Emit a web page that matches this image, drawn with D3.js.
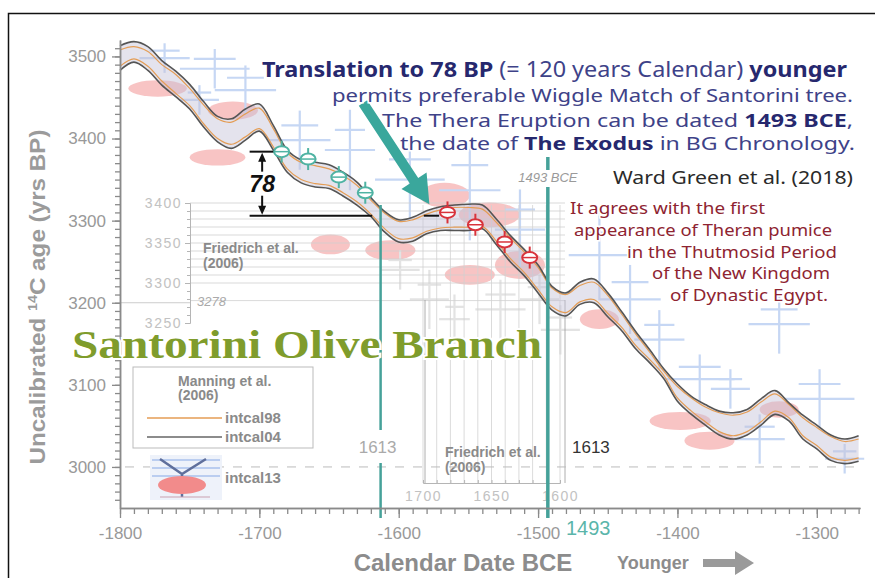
<!DOCTYPE html>
<html>
<head>
<meta charset="utf-8">
<script src="https://cdn.jsdelivr.net/npm/d3@7"></script>
<style>
  body { margin: 0; background: #fff; }
  svg { display: block; }
</style>
</head>
<body>
<div id="chart"></div>
<script>
// calendar years (BCE as negative) for the calibration curves
const calYears = [-1800, -1790, -1780, -1770, -1760, -1750, -1740, -1730, -1720, -1710,
  -1700, -1690, -1680, -1670, -1660, -1650, -1640, -1630, -1620, -1610,
  -1600, -1590, -1580, -1570, -1560, -1550, -1540, -1530, -1520, -1510,
  -1500, -1490, -1480, -1470, -1460, -1450, -1440, -1430, -1420, -1410,
  -1400, -1390, -1380, -1370, -1360, -1350, -1340, -1330, -1320, -1310,
  -1300, -1290, -1280, -1270];

// intcal04 +/- 1 sigma envelope (14C yrs BP)
const intcal04Upper = [3513, 3518, 3512, 3495, 3482, 3466, 3445, 3427, 3424, 3436,
  3442, 3416, 3386, 3374, 3371, 3368, 3359, 3347, 3328, 3311,
  3301, 3304, 3312, 3317, 3319, 3320, 3319, 3302, 3282, 3265,
  3246, 3220, 3212, 3225, 3229, 3212, 3189, 3165, 3143, 3120,
  3101, 3086, 3076, 3068, 3066, 3070, 3083, 3093, 3078, 3063,
  3051, 3039, 3034, 3038];
const intcal04Lower = [3483, 3493, 3483, 3465, 3451, 3436, 3414, 3396, 3388, 3398,
  3409, 3386, 3359, 3346, 3341, 3339, 3330, 3319, 3305, 3286,
  3274, 3275, 3284, 3288, 3288, 3288, 3290, 3271, 3250, 3233,
  3212, 3191, 3184, 3198, 3200, 3183, 3166, 3144, 3127, 3108,
  3080, 3064, 3051, 3039, 3034, 3039, 3051, 3064, 3056, 3034,
  3022, 3008, 3004, 3007];

// intcal98 envelope
const intcal98Upper = [3508, 3512, 3506, 3490, 3478, 3461, 3441, 3424, 3420, 3430,
  3437, 3412, 3383, 3371, 3367, 3363, 3355, 3343, 3325, 3309,
  3299, 3301, 3308, 3313, 3316, 3316, 3314, 3298, 3279, 3262,
  3243, 3218, 3210, 3221, 3225, 3209, 3186, 3162, 3140, 3117,
  3098, 3084, 3073, 3066, 3063, 3067, 3079, 3089, 3076, 3060,
  3048, 3037, 3031, 3034];
const intcal98Lower = [3488, 3497, 3488, 3470, 3455, 3440, 3418, 3400, 3393, 3402,
  3412, 3390, 3363, 3350, 3345, 3343, 3334, 3323, 3308, 3290,
  3278, 3279, 3287, 3291, 3292, 3292, 3293, 3275, 3254, 3237,
  3216, 3195, 3188, 3201, 3204, 3187, 3170, 3148, 3131, 3112,
  3084, 3068, 3055, 3043, 3038, 3043, 3055, 3068, 3060, 3038,
  3026, 3012, 3008, 3011];

// Santorini olive branch segments (Friedrich et al. 2006) and the 78 BP / 120 yr shifted match
const olivePointYears = [-1565, -1545, -1524, -1506];
const olivePointBP = [3310, 3295, 3274, 3255];
const shiftedPointYears = [-1684, -1665, -1643, -1624];
const shiftedPointBP = [3384, 3375, 3353, 3334];

// faded intcal13 background data: [year, bp, yearErr, bpErr]
const intcal13Crosses = [
  [-1768, 3498, 18, 18], [-1732, 3485, 25, 24], [-1710, 3459, 22, 30], [-1743, 3447, 14, 18],
  [-1671, 3398, 22, 36], [-1635, 3386, 18, 49], [-1592, 3350, 25, 49], [-1549, 3337, 22, 61],
  [-1513, 3289, 18, 49], [-1456, 3258, 22, 55], [-1434, 3204, 22, 42], [-1413, 3155, 18, 36],
  [-1384, 3107, 25, 30], [-1327, 3174, 22, 36], [-1298, 3083, 25, 36], [-1341, 3034, 18, 30],
  [-1280, 3010, 14, 18], [-1362, 3095, 14, 24]
];
const intcal13Ellipses = [
  [-1773, 3461, 21, 10], [-1719, 3434, 18, 11], [-1730, 3377, 20, 10], [-1649, 3271, 14, 12],
  [-1567, 3331, 18, 15], [-1535, 3307, 22, 15], [-1513, 3246, 18, 17], [-1549, 3234, 18, 12],
  [-1456, 3180, 14, 12], [-1398, 3056, 22, 11], [-1377, 3032, 18, 11], [-1327, 3070, 14, 10],
  [-1606, 3264, 18, 12]
];
const grayCrosses = [
  [-1578, 3204, 14, 36], [-1560, 3180, 11, 30], [-1527, 3192, 18, 36],
  [-1499, 3204, 14, 30], [-1484, 3167, 14, 30], [-1599, 3240, 14, 24]
];

// tick values
const xMajorTicks = [-1800, -1700, -1600, -1500, -1400, -1300];
const yMajorTicks = [3000, 3100, 3200, 3300, 3400, 3500];
const insetYTicks = [3250, 3300, 3350, 3400];
const insetXTicks = [1700, 1650, 1600];
const markYears = [-1613, -1493];

const W = 875, H = 578;
const svg = d3.select('#chart').append('svg').attr('width', W).attr('height', H);
svg.append('rect').attr('width', W).attr('height', H).attr('fill', '#fff');

const x = d3.scaleLinear().domain([-1800, -1269]).range([120, 860]);
const y = d3.scaleLinear().domain([2950, 3520]).range([508, 40]);
// Friedrich et al. inset scales
const fy = d3.scaleLinear().domain([3250, 3400]).range([323, 203]);
const fx = d3.scaleLinear().domain([1700, 1600]).range([423, 560]);

const sans = 'Liberation Sans, Arial, sans-serif';
const nav = 'Noto Sans, Liberation Sans, sans-serif';

// background: faded intcal13 data
const bg = svg.append('g').attr('opacity', 0.5);
bg.selectAll('ellipse').data(intcal13Ellipses).enter().append('ellipse')
  .attr('cx', d => x(d[0])).attr('cy', d => y(d[1]))
  .attr('rx', d => x(d[0] + d[2]) - x(d[0])).attr('ry', d => y(d[1] - d[3]) - y(d[1]))
  .attr('fill', '#f28b8b');
const cross = function (g, data, color) {
  const c = g.selectAll(null).data(data).enter().append('g').attr('stroke', color).attr('stroke-width', 2.2);
  c.append('line').attr('x1', d => x(d[0] - d[2])).attr('x2', d => x(d[0] + d[2]))
    .attr('y1', d => y(d[1])).attr('y2', d => y(d[1]));
  c.append('line').attr('x1', d => x(d[0])).attr('x2', d => x(d[0]))
    .attr('y1', d => y(d[1] - d[3])).attr('y2', d => y(d[1] + d[3]));
  c.append('line').attr('x1', d => x(d[0] - d[2] * 0.6)).attr('x2', d => x(d[0] + d[2] * 0.6))
    .attr('y1', d => y(d[1] + d[3] * 0.5)).attr('y2', d => y(d[1] + d[3] * 0.5));
};
cross(bg, intcal13Crosses, '#8fb0ea');
cross(bg, grayCrosses, '#c8c8c8');

// Friedrich inset: horizontal grid + left axis
const inset = svg.append('g');
inset.selectAll('.hl').data(d3.range(3300, 3401, 10).concat([3278])).enter().append('line')
  .attr('x1', 190).attr('x2', 565).attr('y1', d => fy(d)).attr('y2', d => fy(d))
  .attr('stroke', '#cfcfcf').attr('stroke-width', 0.8);
inset.selectAll('.vl').data(d3.range(1700, 1599, -10)).enter().append('line')
  .attr('x1', d => fx(d)).attr('x2', d => fx(d)).attr('y1', 205).attr('y2', 483)
  .attr('stroke', '#d2d2d2').attr('stroke-width', 0.8);
inset.append('g').attr('transform', 'translate(190,0)')
  .call(d3.axisLeft(fy).tickValues(insetYTicks).tickSize(5).tickSizeOuter(0).tickFormat(d => d));
inset.append('g').attr('transform', 'translate(190,0)')
  .call(d3.axisLeft(fy).tickValues(d3.range(3250, 3401, 10)).tickSize(3).tickSizeOuter(0).tickFormat(''));
inset.append('g').attr('transform', 'translate(0,483)')
  .call(d3.axisBottom(fx).tickValues(insetXTicks).tickSize(0).tickSizeOuter(0).tickPadding(8).tickFormat(d => d));
inset.append('g').attr('transform', 'translate(0,483)')
  .call(d3.axisTop(fx).tickValues(d3.range(1700, 1599, -10)).tickSize(3).tickSizeOuter(0).tickFormat(''));
inset.selectAll('.domain, .tick line').attr('stroke', '#b5b5b5');
inset.selectAll('.tick text').attr('fill', '#c2c2c2').attr('font-family', sans)
  .attr('font-size', 14).attr('letter-spacing', 1.5);
inset.append('line').attr('x1', fx(1700) + 2).attr('x2', fx(1700) + 2).attr('y1', 300).attr('y2', 483)
  .attr('stroke', '#999').attr('stroke-width', 0.8);
inset.append('line').attr('x1', 565).attr('x2', 565).attr('y1', 300).attr('y2', 483)
  .attr('stroke', '#999').attr('stroke-width', 0.8);
inset.append('text').attr('x', 197).attr('y', fy(3278) + 5).attr('font-family', sans)
  .attr('font-size', 13).attr('font-style', 'italic').attr('fill', '#aaa').text('3278');
[[203, 253], [445, 457]].forEach(p => {
  const t = svg.append('text').attr('font-family', sans).attr('font-size', 14)
    .attr('font-weight', 'bold').attr('fill', '#8a8a8a');
  t.append('tspan').attr('x', p[0]).attr('y', p[1]).text('Friedrich et al.');
  t.append('tspan').attr('x', p[0]).attr('y', p[1] + 15).text('(2006)');
});

// reference grid lines
svg.append('line').attr('x1', 125).attr('x2', 860).attr('y1', y(3000)).attr('y2', y(3000))
  .attr('stroke', '#bbb').attr('stroke-dasharray', '9,9');
svg.append('line').attr('x1', 120).attr('x2', 190).attr('y1', y(3200)).attr('y2', y(3200))
  .attr('stroke', '#ccc');

// calibration curves
const pts = (arr) => calYears.map((yr, i) => [yr, arr[i]]);
const band = d3.area().x((d, i) => x(calYears[i])).y0((d, i) => y(intcal04Lower[i])).y1(d => y(d)).curve(d3.curveCatmullRom);
svg.append('path').datum(intcal04Upper).attr('d', band).attr('fill', '#c4c2d6').attr('opacity', 0.45);
const line = d3.line().x(d => x(d[0])).y(d => y(d[1])).curve(d3.curveCatmullRom);
[intcal98Upper, intcal98Lower].forEach(a => {
  svg.append('path').datum(pts(a)).attr('d', line).attr('fill', 'none')
    .attr('stroke', '#e49d55').attr('stroke-width', 1.2);
});
[intcal04Upper, intcal04Lower].forEach(a => {
  svg.append('path').datum(pts(a)).attr('d', line).attr('fill', 'none')
    .attr('stroke', '#555').attr('stroke-width', 1.6);
});

// teal date lines
const teal = '#45a199';
svg.append('line').attr('x1', x(markYears[0])).attr('x2', x(markYears[0])).attr('y1', 205).attr('y2', 430)
  .attr('stroke', teal).attr('stroke-width', 2.5);
svg.append('line').attr('x1', x(markYears[0])).attr('x2', x(markYears[0])).attr('y1', 463).attr('y2', 518)
  .attr('stroke', teal).attr('stroke-width', 2.5);
svg.append('line').attr('x1', x(markYears[1])).attr('x2', x(markYears[1])).attr('y1', 157).attr('y2', 170)
  .attr('stroke', teal).attr('stroke-width', 3.5);
svg.append('line').attr('x1', x(markYears[1])).attr('x2', x(markYears[1])).attr('y1', 187).attr('y2', 518)
  .attr('stroke', teal).attr('stroke-width', 3.5);

// 78 BP bracket
const bx = x(-1698), bTop = y(3384), bBot = y(3306);
const ink = svg.append('g').attr('stroke', '#111').attr('stroke-width', 2);
ink.append('line').attr('x1', x(-1707)).attr('x2', x(-1689)).attr('y1', bTop).attr('y2', bTop);
ink.append('line').attr('x1', x(-1707)).attr('x2', x(-1619)).attr('y1', bBot).attr('y2', bBot);
ink.append('line').attr('x1', x(-1582)).attr('x2', x(-1571)).attr('y1', bBot).attr('y2', bBot);
ink.append('line').attr('x1', bx).attr('x2', bx).attr('y1', bTop + 6).attr('y2', bTop + 20);
ink.append('line').attr('x1', bx).attr('x2', bx).attr('y1', bBot - 20).attr('y2', bBot - 6);
svg.append('path').attr('d', `M${bx},${bTop + 1}l-4,9h8z M${bx},${bBot - 1}l-4,-9h8z`).attr('fill', '#111');
svg.append('text').attr('x', bx).attr('y', (bTop + bBot) / 2 + 8).attr('text-anchor', 'middle')
  .attr('font-family', sans).attr('font-size', 23).attr('font-weight', 'bold').attr('font-style', 'italic')
  .attr('fill', '#111').text('78');

// markers
const marker = function (years, bps, color) {
  const g = svg.selectAll(null).data(years).enter().append('g')
    .attr('transform', (d, i) => `translate(${x(d)},${y(bps[i])})`);
  g.append('line').attr('y1', -11).attr('y2', 11).attr('stroke', color).attr('stroke-width', 2);
  g.append('ellipse').attr('rx', 7.5).attr('ry', 5.5).attr('fill', '#fff').attr('stroke', color).attr('stroke-width', 2);
  g.append('line').attr('x1', -7).attr('x2', 7).attr('stroke', color).attr('stroke-width', 1.5);
};
marker(shiftedPointYears, shiftedPointBP, '#4fb3a3');
marker(olivePointYears, olivePointBP, '#d8333b');

// big teal arrow pointing at the matched segment
(function () {
  const sx = 363, sy = 103, tx = x(-1578), ty = y(3320);
  const len = Math.hypot(tx - sx, ty - sy), ux = (tx - sx) / len, uy = (ty - sy) / len;
  const nx = -uy, ny = ux, hb = 28;
  const bxp = tx - ux * hb, byp = ty - uy * hb;
  const p = [[sx + nx * 5, sy + ny * 5], [bxp + nx * 5, byp + ny * 5], [bxp + nx * 15, byp + ny * 15], [tx, ty],
    [bxp - nx * 15, byp - ny * 15], [bxp - nx * 5, byp - ny * 5], [sx - nx * 5, sy - ny * 5]];
  svg.append('path').attr('d', 'M' + p.join('L') + 'Z').attr('fill', '#3aa79c');
})();

// axes
const xAxis = svg.append('g').attr('transform', 'translate(0,508)')
  .call(d3.axisBottom(x).tickValues(xMajorTicks).tickSize(10).tickSizeOuter(0).tickPadding(9).tickFormat(d => String(d)));
svg.append('g').attr('transform', 'translate(0,508)')
  .call(d3.axisBottom(x).tickValues(d3.range(-1800, -1269, 10)).tickSize(6).tickSizeOuter(0).tickFormat(''));
const yAxis = svg.append('g').attr('transform', 'translate(120,0)')
  .call(d3.axisLeft(y).tickValues(yMajorTicks).tickSize(8).tickSizeOuter(0).tickPadding(6).tickFormat(d => d));
svg.append('g').attr('transform', 'translate(120,0)')
  .call(d3.axisLeft(y).tickValues(d3.range(2960, 3520, 10)).tickSize(5).tickSizeOuter(0).tickFormat(''));
[xAxis, yAxis].forEach(a => {
  a.selectAll('.tick text').attr('fill', '#999').attr('font-family', sans).attr('font-size', 17);
});
svg.selectAll('.domain').filter(function () { return !inset.node().contains(this); }).attr('stroke', '#8a8a8a').attr('stroke-width', 1.5);
svg.selectAll('.tick line').filter(function () { return !inset.node().contains(this); }).attr('stroke', '#8a8a8a').attr('stroke-width', 1.3);

// axis titles
svg.append('text').attr('x', 463).attr('y', 571).attr('text-anchor', 'middle')
  .attr('font-family', sans).attr('font-weight', 'bold').attr('font-size', 24).attr('fill', '#8c8c8c')
  .text('Calendar Date BCE');
svg.append('text').attr('x', 617).attr('y', 569).attr('font-family', sans).attr('font-weight', 'bold')
  .attr('font-size', 18).attr('fill', '#8c8c8c').text('Younger');
svg.append('path').attr('d', 'M703,559H735V551L754,563L735,575V567H703Z').attr('fill', '#9a9a9a');
const yt = svg.append('text').attr('transform', 'translate(45,297) rotate(-90)').attr('text-anchor', 'middle')
  .attr('textLength', 335).attr('lengthAdjust', 'spacingAndGlyphs')
  .attr('font-family', sans).attr('font-weight', 'bold').attr('font-size', 22).attr('fill', '#9b9b9b');
yt.append('tspan').text('Uncalibrated ');
yt.append('tspan').attr('font-size', 13).attr('dy', -8).text('14');
yt.append('tspan').attr('dy', 8).text('C age (yrs BP)');

// date labels
svg.append('text').attr('x', x(markYears[0]) - 3).attr('y', 453).attr('text-anchor', 'middle')
  .attr('font-family', sans).attr('font-size', 17).attr('fill', '#aaa').text('1613');
svg.append('text').attr('x', 572).attr('y', 453).attr('font-family', sans).attr('font-size', 17)
  .attr('fill', '#333').text('1613');
svg.append('text').attr('x', 566).attr('y', 535).attr('font-family', sans).attr('font-size', 20)
  .attr('fill', '#5ab5aa').text('1493');
svg.append('text').attr('x', x(markYears[1])).attr('y', 182).attr('text-anchor', 'middle')
  .attr('font-family', sans).attr('font-size', 13).attr('font-style', 'italic').attr('fill', '#9a9a9a')
  .text('1493 BCE');

// title
svg.append('text').attr('x', 72).attr('y', 358).attr('font-family', 'Liberation Serif, DejaVu Serif, serif')
  .attr('font-size', 40).attr('font-weight', 'bold').attr('fill', '#7f9c2c')
  .attr('textLength', 470).attr('lengthAdjust', 'spacingAndGlyphs')
  .attr('stroke', '#fff').attr('stroke-width', 4).attr('paint-order', 'stroke')
  .text('Santorini Olive Branch');

// navy annotation block
const navyLines = [
  { y: 77, start: 262, end: 847, size: 21, parts: [['Translation to 78 BP', 1], [' (= 120 years Calendar) ', 0], ['younger', 1]] },
  { y: 102, start: 332, end: 853, size: 18.5, parts: [['permits preferable Wiggle Match of Santorini tree.', 0]] },
  { y: 127, start: 382, end: 853, size: 18.5, parts: [['The Thera Eruption can be dated ', 0], ['1493 BCE', 1], [',', 0]] },
  { y: 150, start: 400, end: 855, size: 18.5, parts: [['the date of ', 0], ['The Exodus', 1], [' in BG Chronology.', 0]] }
];
navyLines.forEach(l => {
  const t = svg.append('text').attr('x', l.start).attr('y', l.y)
    .attr('textLength', l.end - l.start).attr('lengthAdjust', 'spacingAndGlyphs')
    .attr('font-family', nav).attr('font-size', l.size).attr('xml:space', 'preserve')
    .attr('stroke', '#fff').attr('stroke-width', 3).attr('paint-order', 'stroke');
  l.parts.forEach(p => {
    t.append('tspan').attr('font-weight', p[1] ? 'bold' : 'normal')
      .attr('fill', p[1] ? '#26286e' : '#3e4288').text(p[0]);
  });
});
svg.append('text').attr('x', 613).attr('y', 184).attr('textLength', 240).attr('lengthAdjust', 'spacingAndGlyphs')
  .attr('font-family', nav).attr('font-size', 18).attr('fill', '#2a2a2a').attr('stroke', '#fff').attr('stroke-width', 3)
  .attr('paint-order', 'stroke').text('Ward Green et al. (2018)');

// red annotation block
const redLines = [
  ['It agrees with the first', 570, 765, 214],
  ['appearance of Theran pumice', 574, 832, 236],
  ['in the Thutmosid Period', 627, 837, 258],
  ['of the New Kingdom', 652, 830, 279],
  ['of Dynastic Egypt.', 670, 828, 301]
];
svg.selectAll(null).data(redLines).enter().append('text')
  .attr('x', d => d[1]).attr('y', d => d[3]).attr('textLength', d => d[2] - d[1]).attr('lengthAdjust', 'spacingAndGlyphs')
  .attr('font-family', nav).attr('font-size', 17)
  .attr('fill', '#8e2431').attr('stroke', '#fff').attr('stroke-width', 3).attr('paint-order', 'stroke')
  .text(d => d[0]);

// legend
const lg = svg.append('g');
lg.append('rect').attr('x', 133).attr('y', 367).attr('width', 180).attr('height', 81)
  .attr('fill', '#fff').attr('fill-opacity', 0.85).attr('stroke', '#bbb');
const lt = lg.append('text').attr('font-family', sans).attr('font-size', 14).attr('font-weight', 'bold').attr('fill', '#8a8a8a');
lt.append('tspan').attr('x', 178).attr('y', 386).text('Manning et al.');
lt.append('tspan').attr('x', 178).attr('y', 400).text('(2006)');
lg.append('line').attr('x1', 147).attr('x2', 222).attr('y1', 418).attr('y2', 418).attr('stroke', '#e49d55').attr('stroke-width', 1.3);
lg.append('line').attr('x1', 147).attr('x2', 222).attr('y1', 437).attr('y2', 437).attr('stroke', '#666').attr('stroke-width', 1.6);
[['intcal98', 423], ['intcal04', 442], ['intcal13', 483]].forEach(d => {
  lg.append('text').attr('x', 225).attr('y', d[1]).attr('font-family', sans).attr('font-size', 15)
    .attr('font-weight', 'bold').attr('fill', '#8a8a8a').text(d[0]);
});
const icon = lg.append('g');
icon.append('rect').attr('x', 150).attr('y', 455).attr('width', 72).attr('height', 45).attr('fill', '#eef2fa');
[460, 468, 476].forEach(v => icon.append('line').attr('x1', 152).attr('x2', 220).attr('y1', v).attr('y2', v)
  .attr('stroke', '#a9c1ec').attr('stroke-width', 1.5));
icon.append('path').attr('d', 'M160,459L182,474L206,459M182,474V497').attr('fill', 'none')
  .attr('stroke', '#5f6f9c').attr('stroke-width', 2.5);
icon.append('ellipse').attr('cx', 182).attr('cy', 485).attr('rx', 24).attr('ry', 9).attr('fill', '#f28b8b');
icon.append('line').attr('x1', 160).attr('x2', 210).attr('y1', 497).attr('y2', 497).attr('stroke', '#c9a0b0');

// outer frame
svg.append('rect').attr('x', 8.5).attr('y', 13.5).attr('width', 900).attr('height', 600)
  .attr('fill', 'none').attr('stroke', '#111').attr('stroke-width', 1.5);
</script>
</body>
</html>
